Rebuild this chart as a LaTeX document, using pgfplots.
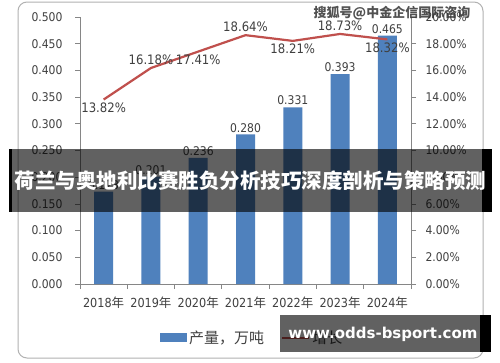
\documentclass[border=0pt]{standalone}
\usepackage{pgfplots}
\pgfplotsset{compat=1.18}
\usepackage{fontspec}
\setmainfont{DejaVu Sans Condensed}
\newfontfamily\cjk{Noto Sans CJK SC}
\newfontfamily\wmfont{DejaVu Sans}
\definecolor{barblue}{HTML}{4F81BD}
\definecolor{linered}{HTML}{C0504D}
\definecolor{axisgray}{HTML}{868686}
\definecolor{txt}{HTML}{404040}

\begin{document}
\begin{tikzpicture}
\path[fill=white] (0pt,0pt) rectangle (500pt,-362pt);
\draw[draw=black!30, line width=1pt, rounded corners=9pt] (18pt,-2pt) rectangle (483pt,-358pt);

\begin{axis}[at={(80pt,-284pt)}, anchor=south west, scale only axis,
  width=331pt, height=267pt,
  xmin=-0.5, xmax=6.5, ymin=0, ymax=0.5,
  axis x line*=bottom, axis y line*=left,
  axis line style={axisgray, line width=0.8pt},
  tick style={axisgray, line width=0.8pt},
  tick align=outside, major tick length=5pt,
  xtick={-0.5,0.5,...,6.5},
  x tick label as interval,
  xticklabels={{2018{\cjk 年}},{2019{\cjk 年}},{2020{\cjk 年}},{2021{\cjk 年}},{2022{\cjk 年}},{2023{\cjk 年}},{2024{\cjk 年}}},
  xticklabel style={font=\fontsize{12.5}{13}\selectfont, text=txt, yshift=-4pt},
  ytick={0,0.05,0.1,0.15,0.2,0.25,0.3,0.35,0.4,0.45,0.5},
  yticklabels={0.000,0.050,0.100,0.150,0.200,0.250,0.300,0.350,0.400,0.450,0.500},
  yticklabel style={font=\fontsize{12}{13}\selectfont, text=txt, xshift=-9pt},
  clip=false,
  legend style={at={(0.2417,-0.202)}, anchor=west, draw=none, fill=none,
    inner sep=0pt, font=\cjk\fontsize{15}{16}\selectfont, text=txt,
    legend cell align=left},
]
\addplot[ybar, bar width=19pt, fill=barblue, draw=none,
  point meta=explicit symbolic,
  nodes near coords,
  every node near coord/.append style={font=\fontsize{12}{13}\selectfont, text=txt, inner sep=2pt},
  legend image code/.code={\fill[barblue] (0pt,-4.5pt) rectangle (27pt,4.5pt);}
] coordinates {(0,0.173) [0.173] (1,0.201) [0.201] (2,0.236) [0.236] (3,0.280) [0.280]
  (4,0.331) [0.331] (5,0.393) [0.393] (6,0.465) [0.465]};
\addlegendentry{产量，万吨}
\end{axis}

\begin{axis}[at={(80pt,-284pt)}, anchor=south west, scale only axis,
  width=331pt, height=267pt,
  xmin=-0.5, xmax=6.5, ymin=0, ymax=20,
  axis x line=none, axis y line*=right,
  axis line style={axisgray, line width=0.8pt},
  tick style={axisgray, line width=0.8pt},
  tick align=outside, major tick length=5pt,
  ytick={0,2,4,6,8,10,12,14,16,18,20},
  yticklabels={0.00\%,2.00\%,4.00\%,6.00\%,8.00\%,10.00\%,12.00\%,14.00\%,16.00\%,18.00\%,20.00\%},
  yticklabel style={font=\fontsize{12}{13}\selectfont, text=txt, xshift=6pt},
  clip=false,
  legend style={at={(0.607,-0.202)}, anchor=west, draw=none, fill=none,
    inner sep=0pt, font=\cjk\fontsize{15}{16}\selectfont, text=txt,
    legend cell align=left},
]
\addplot[linered, line width=2.2pt, mark=none,
  legend image code/.code={\draw[linered, line width=2.2pt] (0pt,0pt) -- (27pt,0pt);}
] coordinates {(0,13.82) (1,16.18) (2,17.41) (3,18.64) (4,18.21) (5,18.73) (6,18.32)};
\addlegendentry{增长}
% labels below the line
\addplot[draw=none, mark=none, forget plot,
  point meta=explicit symbolic, nodes near coords,
  every node near coord/.append style={font=\fontsize{13}{14}\selectfont, text=txt, anchor=north, inner sep=3pt}
] coordinates {(0,13.82) [13.82\%] (2,17.41) [17.41\%] (4,18.21) [18.21\%] (6,18.32) [18.32\%]};
% labels above the line
\addplot[draw=none, mark=none, forget plot,
  point meta=explicit symbolic, nodes near coords,
  every node near coord/.append style={font=\fontsize{13}{14}\selectfont, text=txt, anchor=south, inner sep=3pt}
] coordinates {(1,16.18) [16.18\%] (3,18.64) [18.64\%] (5,18.73) [18.73\%]};
\end{axis}

% overlays
\fill[black, opacity=0.62] (9pt,-149pt) rectangle (492pt,-212pt);
\fill[black] (9pt,-149pt) rectangle (12pt,-212pt);
\fill[black] (482pt,-149pt) rectangle (492pt,-212pt);
\node[text=white, font=\cjk\bfseries\fontsize{20.5}{21}\selectfont, inner sep=0pt] at (250.5pt,-181pt) {荷兰与奥地利比赛胜负分析技巧深度剖析与策略预测};

\fill[black, opacity=0.62] (280pt,-315pt) rectangle (480pt,-352pt);
\fill[black] (480pt,-315pt) rectangle (491pt,-352pt);
\node[text=white, font=\wmfont\bfseries\fontsize{15}{16}\selectfont, inner sep=0pt] at (383pt,-334pt) {www.odds-bsport.com};

\node[text=black!80, opacity=0.85, font=\cjk\bfseries\fontsize{13}{14}\selectfont, inner sep=0pt] at (392pt,-13pt) {搜狐号@中金企信国际咨询};
\end{tikzpicture}
\end{document}
